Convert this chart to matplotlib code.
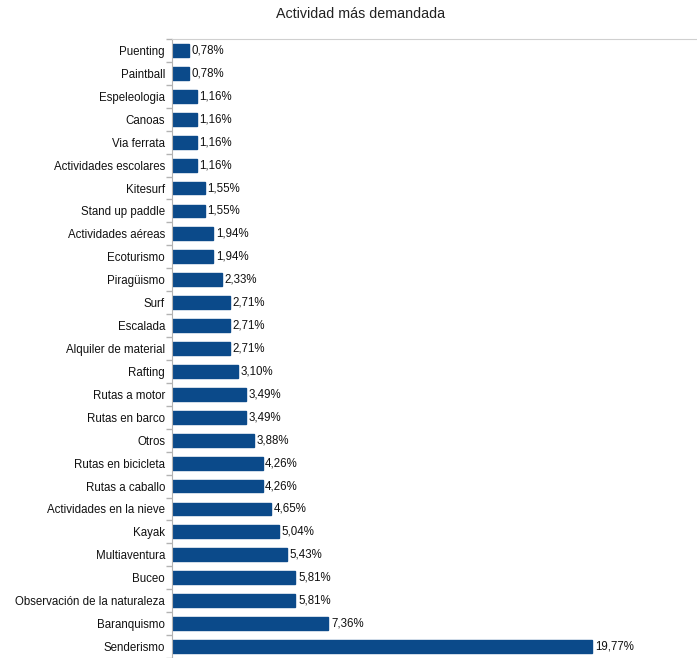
import matplotlib
matplotlib.use('Agg')
import matplotlib.pyplot as plt

plt.rcParams['font.family'] = ['Liberation Sans', 'DejaVu Sans']

# datos (de arriba hacia abajo)
actividades = ['Puenting', 'Paintball', 'Espeleologia', 'Canoas', 'Via ferrata',
               'Actividades escolares', 'Kitesurf', 'Stand up paddle',
               'Actividades aéreas', 'Ecoturismo', 'Piragüismo', 'Surf', 'Escalada',
               'Alquiler de material', 'Rafting', 'Rutas a motor', 'Rutas en barco',
               'Otros', 'Rutas en bicicleta', 'Rutas a caballo',
               'Actividades en la nieve', 'Kayak', 'Multiaventura', 'Buceo',
               'Observación de la naturaleza', 'Baranquismo', 'Senderismo']
porcentajes = [0.78, 0.78, 1.16, 1.16, 1.16, 1.16, 1.55, 1.55, 1.94, 1.94, 2.33,
               2.71, 2.71, 2.71, 3.10, 3.49, 3.49, 3.88, 4.26, 4.26, 4.65, 5.04,
               5.43, 5.81, 5.81, 7.36, 19.77]

fig = plt.figure(figsize=(6.97, 6.58), dpi=100)
ax = fig.add_axes([172 / 697, 0.0, 1 - 172 / 697, (658 - 39) / 658])

n = len(actividades)
pos = list(range(n))
ax.barh(pos, porcentajes, height=0.56, color='#0b4a8a', edgecolor='#0b4a8a')

for p, v in zip(pos, porcentajes):
    ax.text(v + 0.12, p, ('%.2f' % v).replace('.', ',') + '%',
            va='center', ha='left', fontsize=8.3, color='#111111')

ax.set_ylim(n - 0.5, -0.5)
ax.set_xlim(0, 24.7)
ax.set_yticks(pos)
ax.set_yticklabels(actividades, fontsize=8.3, color='#111111')
ax.set_yticks([p + 0.5 for p in range(-1, n)], minor=True)
ax.tick_params(axis='y', which='major', length=0, pad=5)
ax.tick_params(axis='y', which='minor', length=4, color='#b3b3b3', width=1)
ax.set_xticks([])

for s in ['right', 'bottom']:
    ax.spines[s].set_visible(False)
ax.spines['left'].set_color('#b3b3b3')
ax.spines['top'].set_color('#d0d0d0')

fig.text(361 / 697, 1 - 14 / 658, 'Actividad más demandada', ha='center', va='center',
         fontsize=10.3, color='#222222')

fig.savefig('out.png', dpi=100)
